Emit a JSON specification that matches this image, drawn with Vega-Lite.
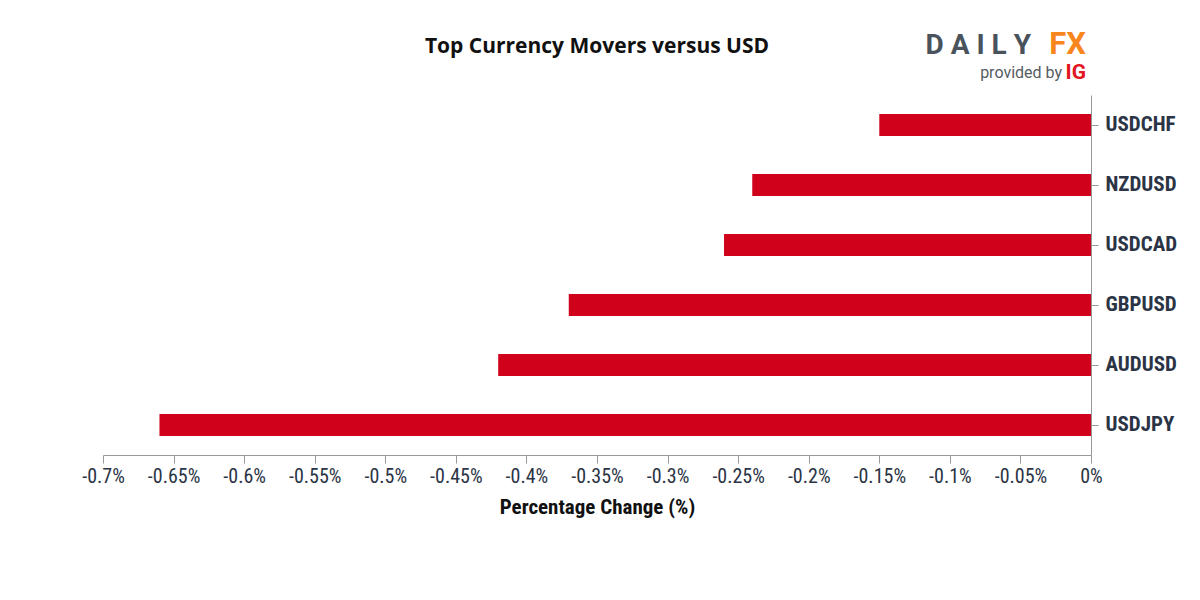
{
  "$schema": "https://vega.github.io/schema/vega-lite/v6.json",
  "width": 988,
  "height": 360,
  "autosize": {"type": "none"},
  "padding": {"left": 103, "top": 95, "right": 109, "bottom": 145},
  "background": "white",
  "title": {
    "text": "Top Currency Movers versus USD",
    "font": "Open Sans",
    "fontSize": 21,
    "fontWeight": "bold",
    "color": "#111111",
    "anchor": "middle",
    "offset": -28
  },
  "data": {
    "values": [
      {"pair": "USDCHF", "change": -0.15},
      {"pair": "NZDUSD", "change": -0.24},
      {"pair": "USDCAD", "change": -0.26},
      {"pair": "GBPUSD", "change": -0.37},
      {"pair": "AUDUSD", "change": -0.42},
      {"pair": "USDJPY", "change": -0.66}
    ]
  },
  "layer": [
    {
      "mark": {"type": "bar", "color": "#d0021b", "height": 22},
      "encoding": {
        "y": {
          "field": "pair",
          "type": "nominal",
          "sort": null,
          "title": null,
          "axis": {
            "orient": "right",
            "domainColor": "#999999",
            "tickColor": "#999999",
            "tickSize": 7,
            "labelFont": "Roboto Condensed, Liberation Sans Narrow, DejaVu Sans Condensed",
            "labelFontSize": 21,
            "labelFontWeight": "bold",
            "labelColor": "#2b3445",
            "labelPadding": 7
          }
        },
        "x": {
          "field": "change",
          "type": "quantitative",
          "title": "Percentage Change (%)",
          "scale": {"domain": [-0.7, 0], "nice": false},
          "axis": {
            "values": [-0.7, -0.65, -0.6, -0.55, -0.5, -0.45, -0.4, -0.35, -0.3, -0.25, -0.2, -0.15, -0.1, -0.05, 0],
            "labelExpr": "toString(datum.value) + '%'",
            "labelFlush": false,
            "labelOverlap": false,
            "grid": false,
            "domainColor": "#999999",
            "tickColor": "#999999",
            "tickSize": 8,
            "labelFont": "Roboto Condensed, Liberation Sans Narrow, DejaVu Sans Condensed",
            "labelFontSize": 20,
            "labelColor": "#2b3445",
            "labelPadding": 3,
            "titleFont": "Roboto Condensed, Liberation Sans Narrow, DejaVu Sans Condensed",
            "titleFontSize": 21,
            "titleFontWeight": "bold",
            "titleColor": "#111111",
            "titlePadding": 10
          }
        }
      }
    },
    {
      "data": {"values": [{"t": "D A I L Y"}]},
      "mark": {"type": "text", "font": "Roboto", "fontSize": 28, "fontWeight": "bold", "color": "#4a525c", "align": "right", "baseline": "alphabetic", "dx": -60, "dy": -41},
      "encoding": {"text": {"field": "t"}, "x": {"datum": 0}, "y": {"value": 0}}
    },
    {
      "data": {"values": [{"t": "FX"}]},
      "mark": {"type": "text", "font": "Roboto", "fontSize": 31, "fontWeight": "bold", "color": "#f7861e", "align": "right", "baseline": "alphabetic", "dx": -5, "dy": -41},
      "encoding": {"text": {"field": "t"}, "x": {"datum": 0}, "y": {"value": 0}}
    },
    {
      "data": {"values": [{"t": "provided by"}]},
      "mark": {"type": "text", "font": "Roboto", "fontSize": 16, "color": "#555b63", "align": "right", "baseline": "alphabetic", "dx": -29, "dy": -17},
      "encoding": {"text": {"field": "t"}, "x": {"datum": 0}, "y": {"value": 0}}
    },
    {
      "data": {"values": [{"t": "IG"}]},
      "mark": {"type": "text", "font": "Roboto", "fontSize": 21, "fontWeight": "bold", "color": "#e3151f", "align": "right", "baseline": "alphabetic", "dx": -5, "dy": -16},
      "encoding": {"text": {"field": "t"}, "x": {"datum": 0}, "y": {"value": 0}}
    }
  ],
  "config": {"view": {"stroke": null}}
}
